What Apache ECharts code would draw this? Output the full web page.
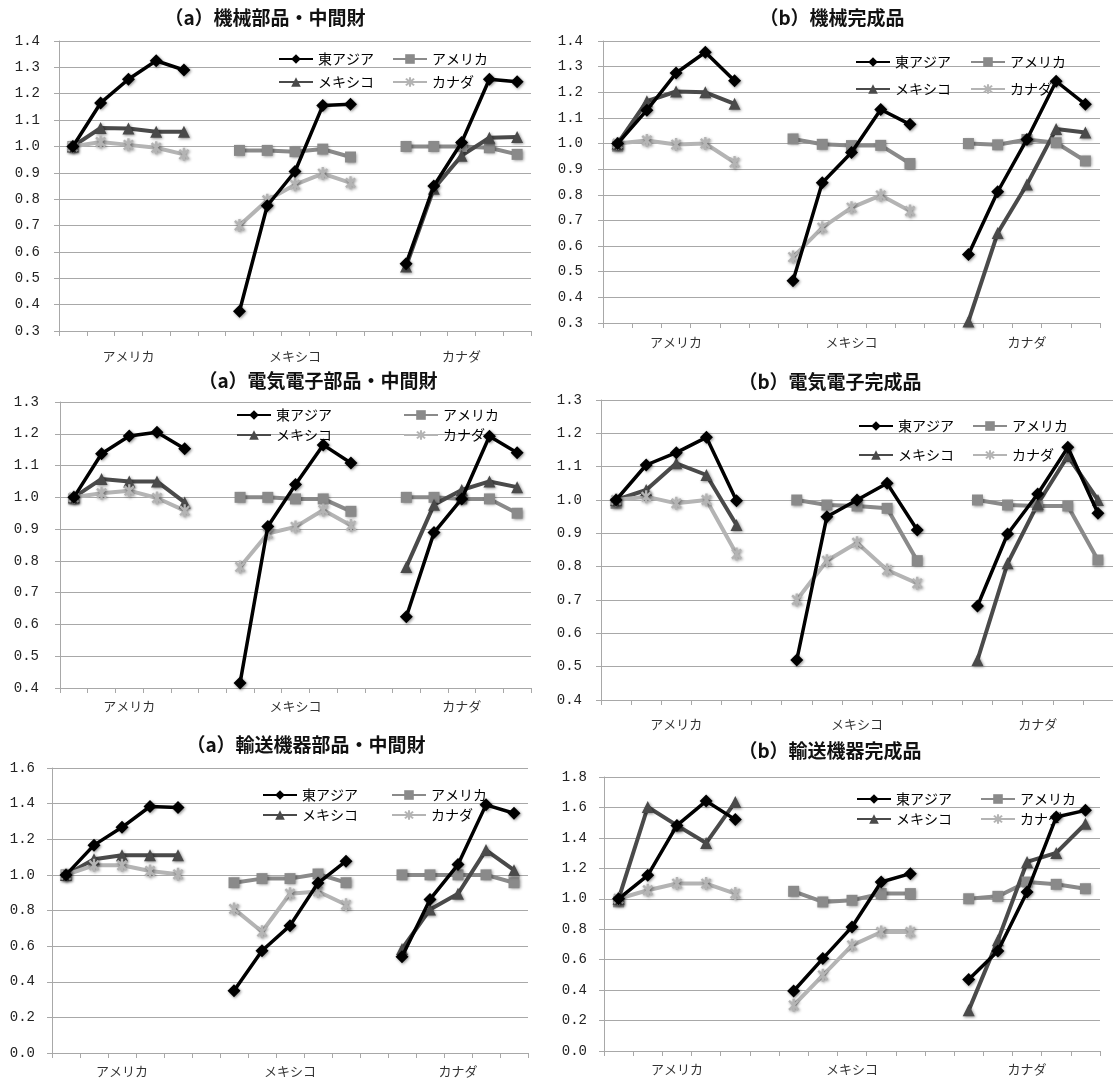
<!DOCTYPE html>
<html><head><meta charset="utf-8">
<script src="https://cdn.jsdelivr.net/npm/echarts@6/dist/echarts.min.js"></script>
<style>html,body{margin:0;padding:0;background:#fff;overflow:hidden}#c{width:1113px;height:1079px}</style>
</head><body><div id="c"></div>
<script>
// ---------- data ----------
const groupLabels = ['アメリカ', 'メキシコ', 'カナダ'];
const periodsPerGroup = 5;
const seriesNames = ['東アジア', 'アメリカ', 'メキシコ', 'カナダ'];
const panelTitles = ['（a）機械部品・中間財', '（b）機械完成品', '（a）電気電子部品・中間財', '（b）電気電子完成品', '（a）輸送機器部品・中間財', '（b）輸送機器完成品'];
const yMins = [0.3, 0.3, 0.4, 0.4, 0.0, 0.0];
const yMaxs = [1.4, 1.4, 1.3, 1.3, 1.6, 1.8];
const yIntervals = [0.1, 0.1, 0.1, 0.1, 0.2, 0.2];

// each array: アメリカ group (5), メキシコ group (5), カナダ group (5)
const p1EastAsia = [1.00, 1.165, 1.255, 1.325, 1.29, 0.375, 0.775, 0.905, 1.155, 1.16, 0.555, 0.85, 1.015, 1.255, 1.245];
const p1Usa = [1.00, null, null, null, null, 0.985, 0.985, 0.98, 0.99, 0.96, 1.00, 1.00, 1.00, 0.995, 0.97];
const p1Mexico = [1.00, 1.07, 1.068, 1.056, 1.056, null, null, null, null, null, 0.545, 0.84, 0.965, 1.033, 1.036];
const p1Canada = [1.00, 1.017, 1.006, 0.995, 0.97, 0.70, 0.796, 0.855, 0.897, 0.862, null, null, null, null, null];

const p2EastAsia = [1.00, 1.13, 1.275, 1.356, 1.245, 0.465, 0.847, 0.965, 1.133, 1.075, 0.567, 0.812, 1.016, 1.243, 1.153];
const p2Usa = [0.99, null, null, null, null, 1.018, 0.997, 0.992, 0.993, 0.922, 1.00, 0.995, 1.016, 1.003, 0.932];
const p2Mexico = [1.00, 1.165, 1.203, 1.20, 1.155, null, null, null, null, null, 0.306, 0.651, 0.84, 1.057, 1.043];
const p2Canada = [1.00, 1.012, 0.996, 1.00, 0.926, 0.557, 0.672, 0.75, 0.798, 0.737, null, null, null, null, null];

const p3EastAsia = [1.00, 1.137, 1.193, 1.205, 1.153, 0.416, 0.908, 1.04, 1.165, 1.108, 0.624, 0.889, 0.995, 1.192, 1.14];
const p3Usa = [0.995, null, null, null, null, 1.00, 1.00, 0.995, 0.995, 0.956, 1.00, 1.00, 0.995, 0.995, 0.95];
const p3Mexico = [1.00, 1.058, 1.05, 1.05, 0.984, null, null, null, null, null, 0.781, 0.977, 1.023, 1.05, 1.032];
const p3Canada = [1.00, 1.013, 1.021, 0.998, 0.958, 0.781, 0.886, 0.907, 0.96, 0.911, null, null, null, null, null];

const p4EastAsia = [1.00, 1.105, 1.142, 1.188, 0.998, 0.52, 0.95, 1.00, 1.05, 0.91, 0.682, 0.898, 1.018, 1.158, 0.96];
const p4Usa = [0.99, null, null, null, null, 1.00, 0.985, 0.982, 0.975, 0.818, 1.00, 0.985, 0.982, 0.982, 0.82];
const p4Mexico = [1.00, 1.03, 1.11, 1.075, 0.925, null, null, null, null, null, 0.52, 0.81, 0.988, 1.132, 1.00];
const p4Canada = [1.00, 1.01, 0.99, 1.00, 0.838, 0.70, 0.818, 0.872, 0.79, 0.75, null, null, null, null, null];

const p5EastAsia = [1.00, 1.167, 1.267, 1.384, 1.378, 0.35, 0.574, 0.715, 0.954, 1.077, 0.54, 0.862, 1.058, 1.393, 1.346];
const p5Usa = [1.00, null, null, null, null, 0.956, 0.979, 0.979, 1.005, 0.956, 1.00, 1.00, 1.00, 1.00, 0.956];
const p5Mexico = [1.00, 1.088, 1.11, 1.11, 1.11, null, null, null, null, null, 0.584, 0.806, 0.894, 1.139, 1.026];
const p5Canada = [1.00, 1.054, 1.054, 1.022, 1.003, 0.809, 0.681, 0.894, 0.907, 0.832, null, null, null, null, null];

const p6EastAsia = [1.00, 1.154, 1.482, 1.642, 1.52, 0.394, 0.607, 0.815, 1.11, 1.165, 0.469, 0.657, 1.045, 1.537, 1.581];
const p6Usa = [0.98, null, null, null, null, 1.049, 0.979, 0.99, 1.034, 1.034, 1.00, 1.016, 1.11, 1.095, 1.066];
const p6Mexico = [1.00, 1.603, 1.482, 1.366, 1.636, null, null, null, null, null, 0.267, 0.727, 1.242, 1.301, 1.493];
const p6Canada = [1.00, 1.056, 1.10, 1.10, 1.034, 0.30, 0.497, 0.694, 0.782, 0.782, null, null, null, null, null];

const panelData = [
  [p1EastAsia, p1Usa, p1Mexico, p1Canada],
  [p2EastAsia, p2Usa, p2Mexico, p2Canada],
  [p3EastAsia, p3Usa, p3Mexico, p3Canada],
  [p4EastAsia, p4Usa, p4Mexico, p4Canada],
  [p5EastAsia, p5Usa, p5Mexico, p5Canada],
  [p6EastAsia, p6Usa, p6Mexico, p6Canada]
];

// ---------- layout / style ----------
const layouts = [
  {grid: {left: 59, top: 41, width: 472, height: 290}, tx: 265, ty: 20, xm: 19, ym: 19, lx: 278, ly: [59, 82], lg: 18},
  {grid: {left: 603, top: 41, width: 497, height: 282}, tx: 832, ty: 20, xm: 13, ym: 20, lx: 855, ly: [62, 89], lg: 19},
  {grid: {left: 60, top: 402, width: 471, height: 286}, tx: 318, ty: 383, xm: 12, ym: 21, lx: 236, ly: [415, 435], lg: 71},
  {grid: {left: 601, top: 400, width: 517, height: 300}, tx: 830, ty: 384, xm: 18, ym: 19, lx: 858, ly: [426, 455], lg: 18},
  {grid: {left: 52, top: 768, width: 476, height: 285}, tx: 306, ty: 747, xm: 12, ym: 17, lx: 262, ly: [795, 815], lg: 33},
  {grid: {left: 604, top: 777, width: 496, height: 274}, tx: 830, ty: 753, xm: 12, ym: 17, lx: 856, ly: [799, 819], lg: 28}
];

const asterisk = 'path://M-1.8,-10L1.8,-10L1.8,10L-1.8,10Z M-8.34,-5.8L-5.8,-8.34L8.34,5.8L5.8,8.34Z M5.8,-8.34L8.34,-5.8L-5.8,8.34L-8.34,5.8Z';
const seriesStyles = [
  {color: '#000000', symbol: 'diamond', size: 13, width: 3.5},
  {color: '#8a8a8a', symbol: 'rect', size: 11, width: 4},
  {color: '#4a4a4a', symbol: 'triangle', size: 12, width: 4},
  {color: '#b4b4b4', symbol: asterisk, size: 13, width: 4}
];
const drawOrder = [1, 2, 3, 0];
const gridColor = '#a8a8a8';
const jpFont = '"Noto Sans CJK JP", sans-serif';
const numFont = '"Liberation Mono", "DejaVu Sans Mono", monospace';

// categories: 5 periods per group, one blank slot between groups
const categories = [];
const catLabel = [];
groupLabels.forEach((g, gi) => {
  for (let i = 0; i < periodsPerGroup; i++) {
    categories.push(g + '_' + i);
    catLabel.push(i === Math.floor(periodsPerGroup / 2) ? g : '');
  }
  if (gi < groupLabels.length - 1) { categories.push('gap_' + gi); catLabel.push(''); }
});
function expand(vals) {
  const out = [];
  groupLabels.forEach((g, gi) => {
    for (let i = 0; i < periodsPerGroup; i++) out.push(vals[gi * periodsPerGroup + i]);
    if (gi < groupLabels.length - 1) out.push(null);
  });
  return out;
}

const option = {
  backgroundColor: '#ffffff',
  animation: false,
  title: [], grid: [], xAxis: [], yAxis: [], legend: [], series: []
};

layouts.forEach((L, p) => {
  option.title.push({
    text: panelTitles[p], left: L.tx, top: L.ty - 12, textAlign: 'center', padding: 0,
    textStyle: {fontFamily: jpFont, fontSize: 19, fontWeight: 'bold', color: '#111'}
  });
  option.grid.push(Object.assign({containLabel: false}, L.grid));
  option.xAxis.push({
    type: 'category', gridIndex: p, data: categories, boundaryGap: true,
    axisLine: {show: true, onZero: false, lineStyle: {color: gridColor, width: 1}},
    axisTick: {show: true, interval: 0, length: 5, lineStyle: {color: gridColor}},
    axisLabel: {interval: 0, margin: L.xm, fontFamily: jpFont, fontSize: 13, color: '#333',
      formatter: (v, idx) => catLabel[idx]},
    splitLine: {show: false}
  });
  option.yAxis.push({
    type: 'value', gridIndex: p, min: yMins[p], max: yMaxs[p], interval: yIntervals[p],
    axisLine: {show: true, lineStyle: {color: gridColor, width: 1}},
    axisTick: {show: true, length: 5, lineStyle: {color: gridColor}},
    axisLabel: {margin: L.ym, fontFamily: numFont, fontSize: 14, color: '#222',
      formatter: v => v.toFixed(1)},
    splitLine: {show: true, lineStyle: {color: gridColor, width: 1}}
  });
  const rows = [[seriesNames[0], seriesNames[1]], [seriesNames[2], seriesNames[3]]];
  rows.forEach((names, r) => {
    option.legend.push({
      data: names, left: L.lx, top: L.ly[r] - 7, padding: 0, itemGap: L.lg,
      itemWidth: 34, itemHeight: 12, selectedMode: false, orient: 'horizontal',
      textStyle: {fontFamily: jpFont, fontSize: 14, color: '#000'}
    });
  });
  drawOrder.forEach(s => {
    const st = seriesStyles[s];
    option.series.push({
      name: seriesNames[s], type: 'line', xAxisIndex: p, yAxisIndex: p,
      data: expand(panelData[p][s]),
      symbol: st.symbol, symbolSize: st.size, symbolKeepAspect: true, showSymbol: true, showAllSymbol: true,
      connectNulls: false,
      lineStyle: {color: st.color, width: st.width},
      itemStyle: {color: st.color, shadowBlur: 3, shadowColor: 'rgba(0,0,0,0.45)', shadowOffsetX: 1, shadowOffsetY: 1},
      emphasis: {disabled: true},
      z: s === 0 ? 4 : 3
    });
  });
});

const chart = echarts.init(document.getElementById('c'), null, {renderer: 'canvas'});
chart.setOption(option);
</script>
</body></html>
